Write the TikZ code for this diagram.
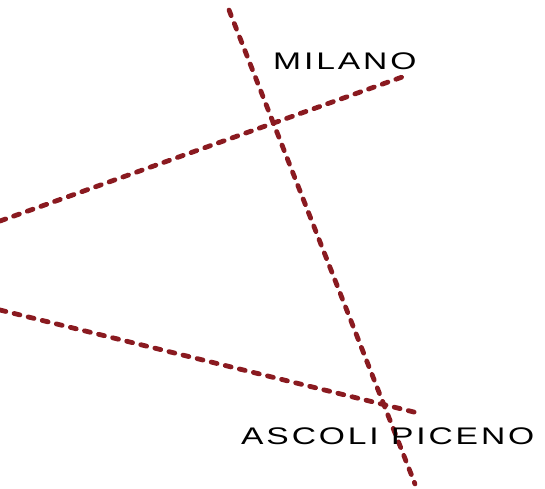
\documentclass[tikz,border=0pt]{standalone}
\usepackage{fontspec}
\newfontfamily\cityfont[FakeStretch=1.4, LetterSpace=12]{Liberation Sans}
\definecolor{railred}{HTML}{8A1A20}
\definecolor{railwhite}{HTML}{FFFFFF}

\begin{document}
\begin{tikzpicture}[
        x=1pt, y=-1pt,
        rail/.style={draw=railred, line width=4.8pt, line cap=round,
          dash pattern=on 6pt off 8.5pt},
        city/.style={font=\cityfont\fontsize{24}{28}\selectfont,
          text=black, inner sep=0pt, anchor=west},
      ]
      \useasboundingbox[fill=railwhite] (0,0) rectangle (545,488);

      % Line ends
      \coordinate (nTop) at (229,10);
      \coordinate (nBot) at (415,484);
      \coordinate (wLeft) at (0,221);
      \coordinate (wRight) at (405,76);
      \coordinate (sLeft) at (0,310);
      \coordinate (sRight) at (422,414);

      % Dashed rail lines
      \draw[rail] (wLeft) -- (wRight);
      \draw[rail] (sLeft) -- (sRight);
      \draw[rail] (nTop) -- (nBot);

      % City names
      \node[city] (milano) at (273,61) {MILANO};
      \node[city] (ascoli) at (241,436) {ASCOLI PICENO};
    \end{tikzpicture}
\end{document}
